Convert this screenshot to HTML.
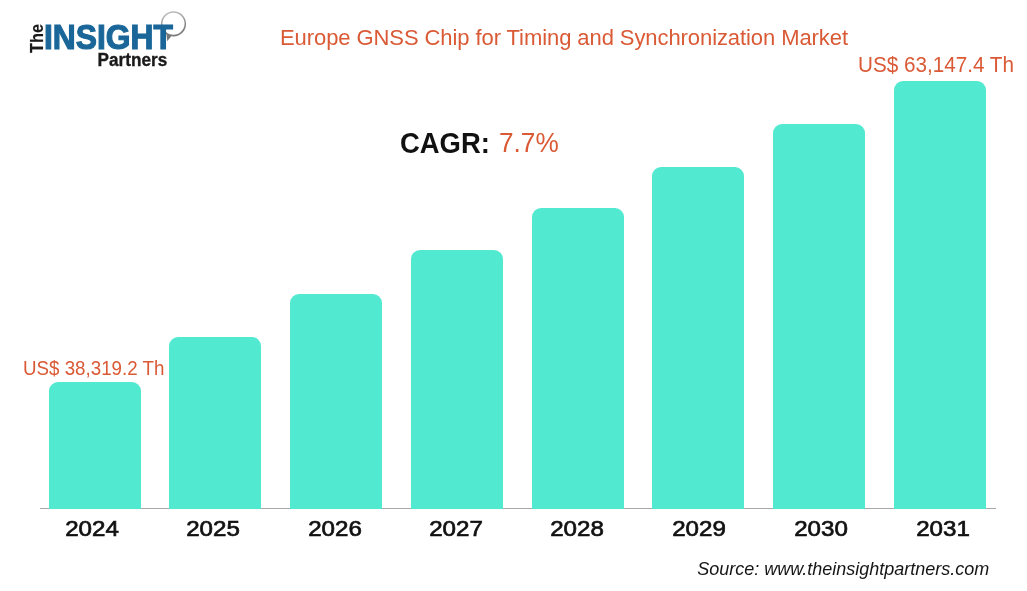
<!DOCTYPE html>
<html><head><meta charset="utf-8">
<style>
html,body{margin:0;padding:0;background:#fff;}
#c{will-change:transform;position:relative;width:1027px;height:591px;overflow:hidden;background:#fff;font-family:"Liberation Sans",sans-serif;}
.a{position:absolute;white-space:nowrap;line-height:1;}
.bar{position:absolute;width:92px;background:#52E9D1;border-radius:9px 9px 0 0;}
.yr{position:absolute;width:120px;text-align:center;font-weight:normal;-webkit-text-stroke:0.7px #111;font-size:22.9px;color:#111;top:516.8px;line-height:1;transform:scaleX(1.055);}
.or{color:#DA5A36;}
</style></head><body>
<div id="c">
  <!-- logo -->
  <svg class="a" style="left:0;top:0" width="200" height="80" viewBox="0 0 200 80">
    <defs><linearGradient id="rg" x1="0" y1="0" x2="0.3" y2="1"><stop offset="0" stop-color="#c4c4c4"/><stop offset="1" stop-color="#7a7a7a"/></linearGradient></defs>
    <circle cx="173.5" cy="23.8" r="11.8" fill="none" stroke="url(#rg)" stroke-width="1.6"/>
    <path d="M166.3 33.2 L171.2 36.2 L167.3 41.2 Z" fill="#777"/>
    <text transform="translate(43.2,53) rotate(-90)" font-family="Liberation Sans" font-weight="bold" font-size="17.6" fill="#1a1a1a" stroke="#1a1a1a" stroke-width="0.15" textLength="29" lengthAdjust="spacingAndGlyphs">The</text>
    <text x="44" y="49" font-family="Liberation Sans" font-weight="bold" font-size="34.6" fill="#1A6699" stroke="#1A6699" stroke-width="1.2" textLength="128.9" lengthAdjust="spacingAndGlyphs">INSIGHT</text>
    <text x="97.6" y="65.6" font-family="Liberation Sans" font-weight="bold" font-size="18" fill="#1a1a1a" stroke="#1a1a1a" stroke-width="0.35" textLength="69.6" lengthAdjust="spacingAndGlyphs">Partners</text>
  </svg>
  <div class="a or" id="title" style="left:280px;top:27px;font-size:22px;letter-spacing:-0.08px;">Europe GNSS Chip for Timing and Synchronization Market</div>
  <div class="a or" id="l2" style="left:858px;top:54.5px;font-size:21.5px;transform:scaleX(0.962);transform-origin:0 0;">US$ 63,147.4 Th</div>
  <div class="a" id="cagr" style="left:400px;top:128.5px;font-weight:bold;font-size:29px;color:#111;transform:scaleX(0.945);transform-origin:0 0;">CAGR:</div>
  <div class="a or" id="cv" style="left:499px;top:129.5px;font-size:27px;transform:scaleX(0.97);transform-origin:0 0;">7.7%</div>
  <div class="a or" id="l1" style="left:23px;top:357.5px;font-size:20px;transform:scaleX(0.937);transform-origin:0 0;">US$ 38,319.2 Th</div>

  <div class="a" style="left:40px;top:508px;width:956px;height:1px;background:#a8a8a8"></div>
  <div class="bar" style="left:49px;top:382px;height:127px"></div>
  <div class="bar" style="left:169px;top:337px;height:172px"></div>
  <div class="bar" style="left:290px;top:294px;height:215px"></div>
  <div class="bar" style="left:411px;top:250px;height:259px"></div>
  <div class="bar" style="left:532px;top:208px;height:301px"></div>
  <div class="bar" style="left:652px;top:167px;height:342px"></div>
  <div class="bar" style="left:773px;top:124px;height:385px"></div>
  <div class="bar" style="left:894px;top:81px;height:428px"></div>

  <div class="yr" style="left:32px">2024</div>
  <div class="yr" style="left:153px">2025</div>
  <div class="yr" style="left:275px">2026</div>
  <div class="yr" style="left:396px">2027</div>
  <div class="yr" style="left:517px">2028</div>
  <div class="yr" style="left:639px">2029</div>
  <div class="yr" style="left:761px">2030</div>
  <div class="yr" style="left:883px">2031</div>

  <div class="a" id="src" style="left:697.2px;top:560px;font-style:italic;font-size:18px;color:#151515;">Source: www.theinsightpartners.com</div>
</div>
</body></html>
